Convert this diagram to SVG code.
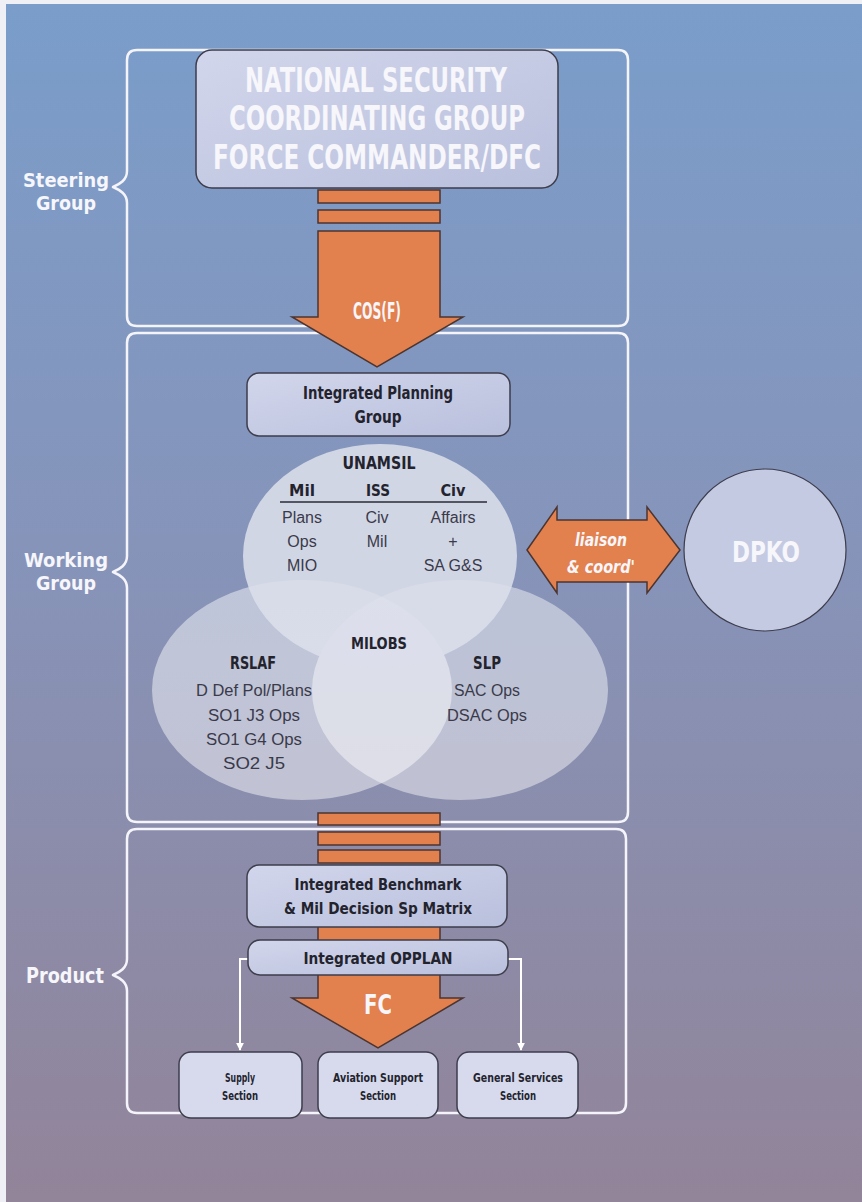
<svg xmlns="http://www.w3.org/2000/svg" width="862" height="1202" viewBox="0 0 862 1202">
<defs>
<linearGradient id="bg" x1="0" y1="0" x2="0" y2="1">
<stop offset="0" stop-color="#7a9dca"/>
<stop offset="0.45" stop-color="#8694ba"/>
<stop offset="1" stop-color="#928499"/>
</linearGradient>
<linearGradient id="boxg" x1="0" y1="0" x2="1" y2="1">
<stop offset="0" stop-color="#d2d6ec"/>
<stop offset="1" stop-color="#b9c0dc"/>
</linearGradient>
<marker id="ah" viewBox="0 0 10 10" refX="9" refY="5" markerWidth="4" markerHeight="4" orient="auto">
<path d="M0,0 L10,5 L0,10 z" fill="#ffffff"/>
</marker>
<style>
.frame{fill:none;stroke:#f4f4fa;stroke-width:2.5;stroke-linejoin:round}
.box{fill:url(#boxg);stroke:#3d3d4c;stroke-width:1.5}
.lbox{fill:#d6daec;stroke:#3d3d4c;stroke-width:1.5}
.orange{fill:#e2804e;stroke:#4c3530;stroke-width:1.5;stroke-linejoin:miter}
.wh{font-family:"DejaVu Sans Condensed","DejaVu Sans","Liberation Sans",sans-serif;font-weight:bold;fill:#f6f6fb;text-anchor:middle}
.dk{font-family:"DejaVu Sans Condensed","DejaVu Sans","Liberation Sans",sans-serif;font-weight:bold;fill:#23232e;text-anchor:middle}
.lt{font-family:"Liberation Sans","DejaVu Sans",sans-serif;fill:#3a3a4a;text-anchor:middle;font-size:16px}
.conn{fill:none;stroke:#ffffff;stroke-width:2}
</style>
</defs>
<rect x="0" y="0" width="862" height="1202" fill="#eef0f6"/>
<rect x="6" y="4" width="856" height="1198" fill="url(#bg)"/>

<g id="frames">
<path class="frame" d="M137,50 H618 Q628,50 628,60 V316 Q628,326 618,326 H137 Q127,326 127,316 V203 C127,194 120,190 113,187 C120,184 127,180 127,171 V60 Q127,50 137,50 Z"/>
<path class="frame" d="M137,333 H618 Q628,333 628,343 V812 Q628,822 618,822 H137 Q127,822 127,812 V588 C127,579 120,575 113,572 C120,569 127,565 127,556 V343 Q127,333 137,333 Z"/>
<path class="frame" d="M137,829 H616 Q626,829 626,839 V1103 Q626,1113 616,1113 H137 Q127,1113 127,1103 V991 C127,982 120,978 113,975 C120,972 127,968 127,959 V839 Q127,829 137,829 Z"/>
<text class="wh" x="66" y="187" font-size="20" textLength="86" lengthAdjust="spacingAndGlyphs">Steering</text>
<text class="wh" x="66" y="210" font-size="20" textLength="60" lengthAdjust="spacingAndGlyphs">Group</text>
<text class="wh" x="66" y="567" font-size="20" textLength="84" lengthAdjust="spacingAndGlyphs">Working</text>
<text class="wh" x="66" y="590" font-size="20" textLength="60" lengthAdjust="spacingAndGlyphs">Group</text>
<text class="wh" x="65" y="983" font-size="21" textLength="78" lengthAdjust="spacingAndGlyphs">Product</text>
</g>

<g id="connectors">
<g id="arrow-cosf">
<rect class="orange" x="318" y="190" width="122" height="13"/>
<rect class="orange" x="318" y="210" width="122" height="13"/>
<polygon class="orange" points="318,231 440,231 440,317 463,317 377,367 292,317 318,317"/>
<text class="wh" x="377" y="319" font-size="23" textLength="48" lengthAdjust="spacingAndGlyphs">COS(F)</text>
</g>
<g id="arrow-fc">
<rect class="orange" x="318" y="813" width="122" height="12"/>
<rect class="orange" x="318" y="832" width="122" height="13"/>
<rect class="orange" x="318" y="850" width="122" height="13"/>
<polygon class="orange" points="318,866 440,866 440,998 463,998 378,1048 292,998 318,998"/>
<text class="wh" x="378" y="1014" font-size="26" textLength="28" lengthAdjust="spacingAndGlyphs">FC</text>
</g>
<g id="arrow-liaison">
<polygon class="orange" points="527,550 557,507 557,520 647,520 647,507 680,550 647,593 647,582 557,582 557,593"/>
<text class="wh" x="601" y="546" font-size="17" font-style="italic" textLength="52" lengthAdjust="spacingAndGlyphs">liaison</text>
<text class="wh" x="601" y="573" font-size="17" font-style="italic" textLength="68" lengthAdjust="spacingAndGlyphs">&amp; coord'</text>
</g>
<path class="conn" d="M248,959 H240 V1050" marker-end="url(#ah)"/>
<path class="conn" d="M508,959 H521 V1050" marker-end="url(#ah)"/>
</g>

<g id="nscg">
<rect class="box" x="196" y="50" width="362" height="138" rx="16"/>
<text class="wh" x="376" y="92" font-size="34" textLength="262" lengthAdjust="spacingAndGlyphs">NATIONAL SECURITY</text>
<text class="wh" x="377" y="130" font-size="34" textLength="296" lengthAdjust="spacingAndGlyphs">COORDINATING GROUP</text>
<text class="wh" x="377" y="169" font-size="34" textLength="328" lengthAdjust="spacingAndGlyphs">FORCE COMMANDER/DFC</text>
</g>

<g id="ipg">
<rect class="box" x="247" y="373" width="263" height="63" rx="12"/>
<text class="dk" x="378" y="399" font-size="17" textLength="150" lengthAdjust="spacingAndGlyphs">Integrated Planning</text>
<text class="dk" x="378" y="423" font-size="17" textLength="47" lengthAdjust="spacingAndGlyphs">Group</text>
</g>

<g id="rslaf">
<ellipse cx="302" cy="690" rx="150" ry="110" fill="#ffffff" fill-opacity="0.47"/>
</g>
<g id="slp">
<ellipse cx="460" cy="690" rx="148" ry="110" fill="#ffffff" fill-opacity="0.45"/>
</g>
<g id="unamsil">
<ellipse cx="380" cy="556" rx="137" ry="112" fill="#dcdfeb" fill-opacity="0.88"/>
<text class="dk" x="379" y="469" font-size="17" textLength="73" lengthAdjust="spacingAndGlyphs">UNAMSIL</text>
<text class="dk" x="302" y="496" font-size="16" textLength="26" lengthAdjust="spacingAndGlyphs">Mil</text>
<text class="dk" x="378" y="496" font-size="16" textLength="24" lengthAdjust="spacingAndGlyphs">ISS</text>
<text class="dk" x="453" y="496" font-size="16" textLength="25" lengthAdjust="spacingAndGlyphs">Civ</text>
<line x1="280" y1="502" x2="487" y2="502" stroke="#2a2a36" stroke-width="1.5"/>
<text class="lt" x="302" y="523">Plans</text>
<text class="lt" x="377" y="523">Civ</text>
<text class="lt" x="453" y="523">Affairs</text>
<text class="lt" x="302" y="547">Ops</text>
<text class="lt" x="377" y="547">Mil</text>
<text class="lt" x="453" y="547">+</text>
<text class="lt" x="302" y="571">MIO</text>
<text class="lt" x="453" y="571">SA G&amp;S</text>
</g>
<g id="labels-lower">
<text class="dk" x="379" y="649" font-size="16" textLength="56" lengthAdjust="spacingAndGlyphs">MILOBS</text>
<text class="dk" x="253" y="669" font-size="17" textLength="46" lengthAdjust="spacingAndGlyphs">RSLAF</text>
<text class="lt" x="254" y="696" textLength="116" lengthAdjust="spacingAndGlyphs">D Def Pol/Plans</text>
<text class="lt" x="254" y="721" textLength="92" lengthAdjust="spacingAndGlyphs">SO1 J3 Ops</text>
<text class="lt" x="254" y="745" textLength="96" lengthAdjust="spacingAndGlyphs">SO1 G4 Ops</text>
<text class="lt" x="254" y="769" textLength="62" lengthAdjust="spacingAndGlyphs">SO2 J5</text>
<text class="dk" x="487" y="669" font-size="17" textLength="28" lengthAdjust="spacingAndGlyphs">SLP</text>
<text class="lt" x="487" y="696" textLength="66" lengthAdjust="spacingAndGlyphs">SAC Ops</text>
<text class="lt" x="487" y="721" textLength="80" lengthAdjust="spacingAndGlyphs">DSAC Ops</text>
</g>

<g id="dpko">
<circle cx="765" cy="550" r="81" fill="#c4cae2" stroke="#3d3d4c" stroke-width="1.2"/>
<text class="wh" x="766" y="562" font-size="28" textLength="68" lengthAdjust="spacingAndGlyphs">DPKO</text>
</g>

<g id="benchmark">
<rect class="box" x="247" y="865" width="260" height="62" rx="12"/>
<text class="dk" x="378" y="890" font-size="16" textLength="167" lengthAdjust="spacingAndGlyphs">Integrated Benchmark</text>
<text class="dk" x="378" y="914" font-size="16" textLength="188" lengthAdjust="spacingAndGlyphs">&amp; Mil Decision Sp Matrix</text>
</g>

<g id="opplan">
<rect class="box" x="248" y="940" width="260" height="35" rx="12"/>
<text class="dk" x="378" y="964" font-size="16" textLength="149" lengthAdjust="spacingAndGlyphs">Integrated OPPLAN</text>
</g>

<g id="supply">
<rect class="lbox" x="179" y="1052" width="123" height="66" rx="12"/>
<text class="dk" x="240" y="1082" font-size="12" font-weight="normal" textLength="30" lengthAdjust="spacingAndGlyphs">Supply</text>
<text class="dk" x="240" y="1100" font-size="12" font-weight="normal" textLength="36" lengthAdjust="spacingAndGlyphs">Section</text>
</g>
<g id="aviation">
<rect class="lbox" x="318" y="1052" width="120" height="66" rx="12"/>
<text class="dk" x="378" y="1082" font-size="12" textLength="90" lengthAdjust="spacingAndGlyphs">Aviation Support</text>
<text class="dk" x="378" y="1100" font-size="12" textLength="36" lengthAdjust="spacingAndGlyphs">Section</text>
</g>
<g id="general">
<rect class="lbox" x="457" y="1052" width="121" height="66" rx="12"/>
<text class="dk" x="518" y="1082" font-size="12" font-weight="normal" textLength="90" lengthAdjust="spacingAndGlyphs">General Services</text>
<text class="dk" x="518" y="1100" font-size="12" font-weight="normal" textLength="36" lengthAdjust="spacingAndGlyphs">Section</text>
</g>
</svg>
